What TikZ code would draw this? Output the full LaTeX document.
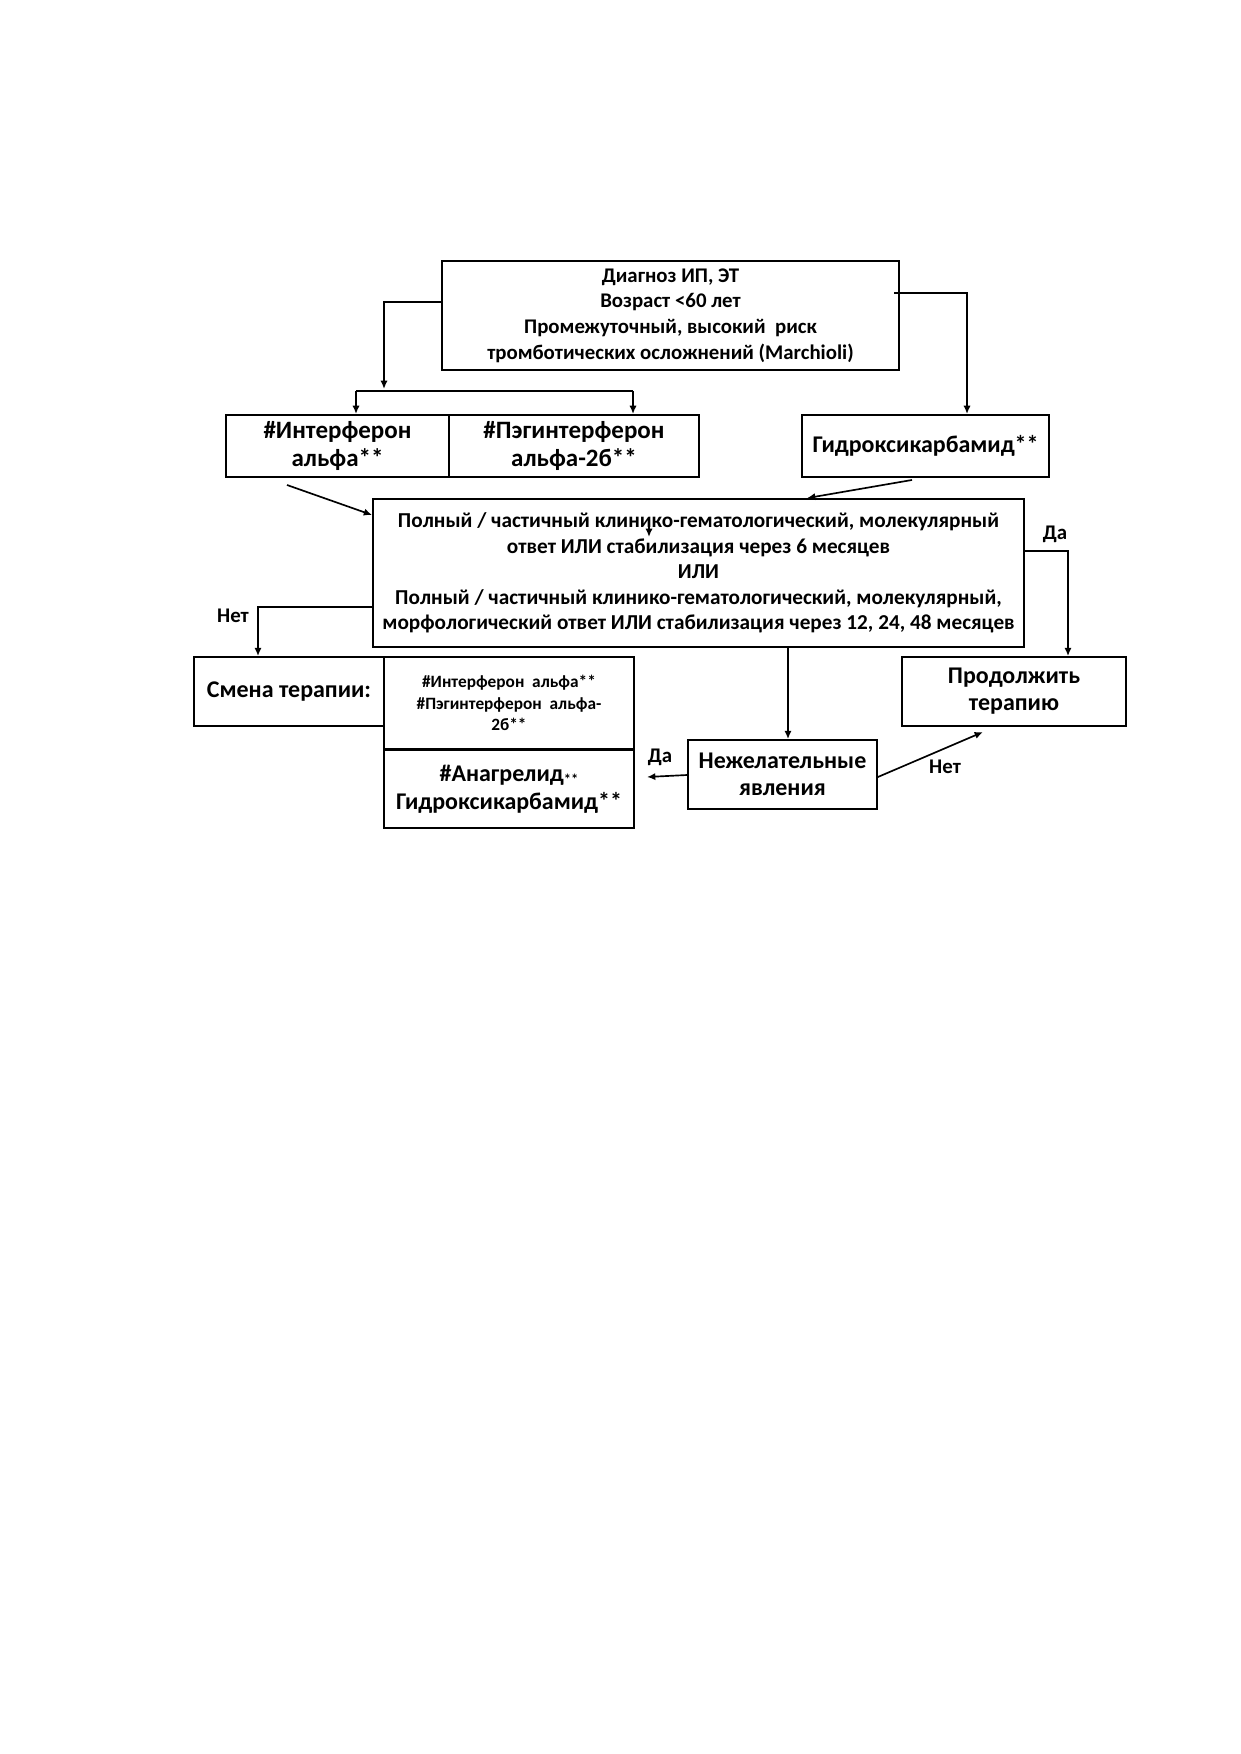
\documentclass[tikz,border=0pt]{standalone}
\usepackage{fontspec}
\setmainfont{Carlito}
\usetikzlibrary{arrows.meta}
\begin{document}
\begin{tikzpicture}[x=0.48006pt,y=-0.48006pt,
  box/.style={draw,line width=0.9pt,inner sep=0pt,align=center,font=\bfseries},
  arr/.style={line width=0.8pt,-{Latex[length=4pt,width=3.5pt]}},
  ln/.style={line width=0.8pt},
  lbl/.style={font=\bfseries\fontsize{10}{12}\selectfont,inner sep=0pt}]
\useasboundingbox (0,0) rectangle (1240,1754);
\node[box,minimum width=219.4pt,minimum height=52.3pt,font=\bfseries\fontsize{10}{12.3}\selectfont] (top) at (670.5,315.5)
 {Диагноз ИП, ЭТ\\Возраст <60 лет\\Промежуточный, высокий~ риск\\тромботических осложнений (Marchioli)};
\node[box,minimum width=107pt,minimum height=29.8pt,font=\bfseries\fontsize{12}{13}\selectfont] (intf) at (337.5,446)
 {\#Интерферон\\альфа**};
\node[box,minimum width=120pt,minimum height=29.8pt,font=\bfseries\fontsize{12}{13}\selectfont] (peg) at (574,446)
 {\#Пэгинтерферон\\альфа-2б**};
\node[box,minimum width=118.6pt,minimum height=29.8pt,font=\bfseries\fontsize{11.5}{13}\selectfont] (hyd) at (925.5,446)
 {Гидроксикарбамид**};
\node[box,minimum width=312.5pt,minimum height=71pt,font=\bfseries\fontsize{10.2}{12.3}\selectfont] (main) at (698.5,573)
 {Полный / частичный клинико-гематологический, молекулярный\\ответ ИЛИ стабилизация через 6 месяцев\\ИЛИ\\Полный / частичный клинико-гематологический, молекулярный,\\морфологический ответ ИЛИ стабилизация через 12, 24, 48 месяцев};
\node[box,minimum width=91.2pt,minimum height=33.1pt,font=\bfseries\fontsize{11.5}{13}\selectfont] (smena) at (289,691.5)
 {Смена терапии:};
\node[box,minimum width=120pt,minimum height=44.2pt,font=\bfseries\fontsize{8.3}{10.3}\selectfont] (list) at (509,703)
 {\#Интерферон~ альфа**\\\#Пэгинтерферон~ альфа-\\2б**};
\node[box,minimum width=120pt,minimum height=37.4pt,font=\bfseries\fontsize{11.5}{13.5}\selectfont] (anag) at (509,789)
 {\#Анагрелид{\fontsize{7}{7}\selectfont\raisebox{-1.5pt}{**}}\\Гидроксикарбамид**};
\node[box,minimum width=90.7pt,minimum height=33.1pt,font=\bfseries\fontsize{11.5}{13}\selectfont] (nezh) at (782.5,774.5)
 {Нежелательные\\явления};
\node[box,minimum width=107.5pt,minimum height=33.1pt,font=\bfseries\fontsize{11.5}{13}\selectfont] (prod) at (1014,691.5)
 {Продолжить\\терапию};
% connectors
\coordinate (bl) at (356,391);
\coordinate (br) at (633,391);
\coordinate (bj) at (384,389);
\draw[arr] (top.west |- 0,302) -| (bj);
\draw[ln] (bl) -- (br);
\draw[arr] (bl) -- (bl |- intf.north);
\draw[arr] (br) -- (br |- peg.north);
\coordinate (ts) at (894,293);
\draw[arr] (ts) -| (hyd.north -| 967,0);
\coordinate (is) at (287,485);
\draw[arr] (is) -- (main.west |- 0,515);
\draw[arr] (hyd.south -| 912,0) ++(0,2) -- (main.north -| 807,0);
\coordinate (sa) at (649,518);
\coordinate (sb) at (649,537);
\draw[arr] (sa) -- (sb);
\draw[arr] (main.west |- 0,607) -| (smena.north -| 258,0);
\draw[arr] (main.east |- 0,551) -| (prod.north -| 1068,0);
\draw[arr] (main.south -| 788,0) -- (nezh.north -| 788,0);
\coordinate (da2) at (647,777);
\draw[arr] (nezh.west |- 0,775) -- (da2);
\coordinate (net2) at (983,732);
\draw[arr] (nezh.east |- 0,777) -- (net2);
% labels
\node[lbl] (l1) at (233,616) {Нет};
\node[lbl] (l2) at (1055,534) {Да};
\node[lbl] (l3) at (660,757) {Да};
\node[lbl] (l4) at (945,767) {Нет};
\end{tikzpicture}
\end{document}
